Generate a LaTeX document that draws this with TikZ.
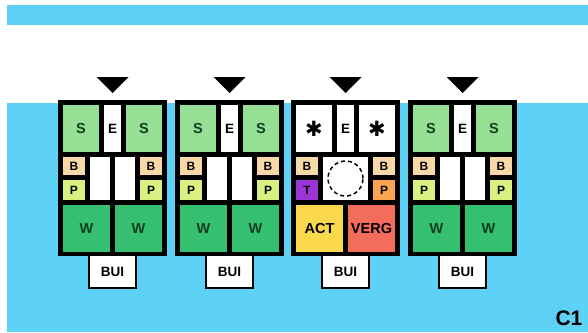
\documentclass[tikz,border=0pt]{standalone}
\usepackage{fontspec}
\setmainfont{Liberation Sans}
\newfontfamily\djv{DejaVu Sans}
\definecolor{sky}{RGB}{94,209,246}
\definecolor{sgreen}{RGB}{150,224,150}
\definecolor{wgreen}{RGB}{52,192,112}
\definecolor{dgreen}{RGB}{18,62,30}
\definecolor{peach}{RGB}{249,216,168}
\definecolor{lime}{RGB}{218,240,128}
\definecolor{purp}{RGB}{156,52,214}
\definecolor{orng}{RGB}{250,164,82}
\definecolor{yell}{RGB}{250,217,76}
\definecolor{verg}{RGB}{243,108,92}
\newcommand\bx[7][]{\node[cell,#1,minimum width={((#5)-(#3))*1pt},minimum height={((#6)-(#4))*1pt}] (#2) at ({((#3)+(#5))/2},{((#4)+(#6))/2}) {#7};}
\begin{document}
\begin{tikzpicture}[x=1pt,y=-1pt,
  cell/.style={inner sep=0pt,outer sep=0pt,font=\bfseries\fontsize{13.5}{13.5}\selectfont},
  big/.style={font=\bfseries\fontsize{14.5}{14.5}\selectfont},
  sm/.style={font=\bfseries\fontsize{12}{12}\selectfont},
  grn/.style={text=dgreen},
  bui/.style={fill=white,draw=black,line width=2pt}]
\fill[white] (0,0) rectangle (588,332);
\useasboundingbox (0,0) rectangle (588,332);
\fill[sky] (7,5) rectangle (588,25);
\fill[sky] (7,103) rectangle (588,332);
% generic blocks
\foreach \x/\i in {58/1,175/2,408/4}{
  \fill ({\x+54.5-16},77) -- ({\x+54.5+16},77) -- ({\x+54.5},93) -- cycle;
  \bx[bui]{bui\i}{\x+31}{255}{\x+78}{288}{BUI}
  \bx[fill=black]{f\i}{\x}{100}{\x+109}{256}{}
  \bx[fill=sgreen,grn,big]{sl\i}{\x+5}{105}{\x+41}{152}{S}
  \bx[fill=white]{e\i}{\x+46}{105}{\x+63}{152}{E}
  \bx[fill=sgreen,grn,big]{sr\i}{\x+68}{105}{\x+104}{152}{S}
  \bx[fill=peach,sm]{bl\i}{\x+5}{157}{\x+27}{175}{B}
  \bx[fill=lime,sm]{pl\i}{\x+5}{180}{\x+27}{200}{P}
  \bx[fill=white]{m1\i}{\x+32}{157}{\x+52}{200}{}
  \bx[fill=white]{m2\i}{\x+57}{157}{\x+77}{200}{}
  \bx[fill=peach,sm]{br\i}{\x+82}{157}{\x+104}{175}{B}
  \bx[fill=lime,sm]{pr\i}{\x+82}{180}{\x+104}{200}{P}
  \bx[fill=wgreen,grn,big]{wl\i}{\x+5}{205}{\x+52}{252}{W}
  \bx[fill=wgreen,grn,big]{wr\i}{\x+57}{205}{\x+104}{252}{W}
}
% special block
\def\x{291}
\fill ({\x+54.5-16},77) -- ({\x+54.5+16},77) -- ({\x+54.5},93) -- cycle;
\bx[bui]{bui3}{\x+31}{255}{\x+78}{288}{BUI}
\bx[fill=black]{f3}{\x}{100}{\x+109}{256}{}
\bx[fill=white,font=\djv\fontsize{21}{21}\selectfont]{sl3}{\x+5}{105}{\x+41}{152}{✱}
\bx[fill=white]{e3}{\x+46}{105}{\x+63}{152}{E}
\bx[fill=white,font=\djv\fontsize{21}{21}\selectfont]{sr3}{\x+68}{105}{\x+104}{152}{✱}
\bx[fill=peach,sm]{bl3}{\x+5}{157}{\x+27}{175}{B}
\bx[fill=purp,sm]{tl3}{\x+5}{180}{\x+27}{200}{T}
\bx[fill=white]{m3}{\x+32}{157}{\x+77}{200}{}
\node[circle,draw=black,line width=1.5pt,minimum size=35pt,inner sep=0pt,dash pattern=on 4pt off 3pt] (ring) at (m3) {};
\bx[fill=peach,sm]{br3}{\x+82}{157}{\x+104}{175}{B}
\bx[fill=orng,sm]{pr3}{\x+82}{180}{\x+104}{200}{P}
\bx[fill=yell,big]{act}{\x+5}{205}{\x+52}{252}{ACT}
\bx[fill=verg,big]{vg}{\x+57}{205}{\x+104}{252}{VERG}
\node[font=\bfseries\fontsize{21}{21}\selectfont,inner sep=0pt] (c1) at (569,318) {C1};
\end{tikzpicture}
\end{document}
